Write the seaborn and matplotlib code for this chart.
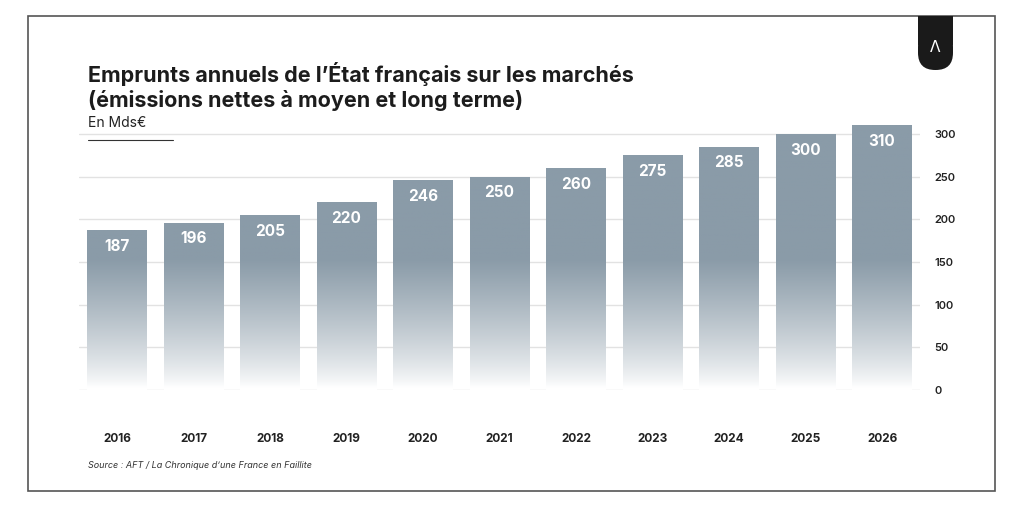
import matplotlib
matplotlib.use('Agg')
import numpy as np
import pandas as pd
import matplotlib.pyplot as plt
import seaborn as sns
from matplotlib.patches import Rectangle, FancyBboxPatch

# Données (Mds€)
annees = ['2016', '2017', '2018', '2019', '2020', '2021', '2022', '2023', '2024', '2025', '2026']
emprunts = [187, 196, 205, 220, 246, 250, 260, 275, 285, 300, 310]
graduations = [0, 50, 100, 150, 200, 250, 300]

titre = "Emprunts annuels de l\u2019État français sur les marchés\n(émissions nettes à moyen et long terme)"
sous_titre = "En Mds€"
source = "Source : AFT / La Chronique d\u2019une France en Faillite"

sns.set_theme(style="white")
plt.rcParams['font.family'] = ['Inter', 'DejaVu Sans']

df = pd.DataFrame({'annee': annees, 'valeur': emprunts})

fig = plt.figure(figsize=(10.24, 5.07), dpi=100)
fig.patch.set_facecolor('white')
ax = fig.add_axes([0.0769, 0.2308, 0.8218, 0.5385])

sns.barplot(data=df, x='annee', y='valeur', color='#8A9BA8', width=0.78, ax=ax,
            saturation=1)

YMAX = 320

# grille légère
for g in graduations:
    ax.axhline(g, color='#e2e2e2', lw=1, zorder=0)

# dégradé vertical (en valeurs absolues) dans chaque barre
couleur_haut = np.array([0x8A, 0x9B, 0xA8]) / 255
blanc = np.array([1.0, 1.0, 1.0])
n = 320
v = np.linspace(0, YMAX, n)
mix = np.clip((v - 3) / 150, 0, 1) ** 0.8
grad = (blanc[None, :] * (1 - mix[:, None]) + couleur_haut[None, :] * mix[:, None])
grad = grad[:, None, :]

for p in ax.patches:
    x0, w, h = p.get_x(), p.get_width(), p.get_height()
    p.set_facecolor('none')
    p.set_edgecolor('none')
    im = ax.imshow(grad, extent=[x0, x0 + w, 0, YMAX], origin='lower', aspect='auto', zorder=2)
    im.set_clip_path(p)
    ax.text(x0 + w / 2, h - 10, f"{int(h)}", ha='center', va='top', color='white',
            fontsize=11, fontweight='bold', zorder=3)

ax.set_aspect('auto')
ax.set_xlim(-0.5, len(annees) - 0.5)
ax.set_ylim(0, YMAX)

ax.yaxis.tick_right()
ax.set_yticks(graduations)
ax.set_yticklabels([str(g) for g in graduations], fontsize=8, fontweight='semibold', color='#222222')
ax.tick_params(axis='y', length=0, pad=10)
ax.tick_params(axis='x', length=0, pad=31, labelsize=8.5, labelcolor='#222222')
for lab in ax.get_xticklabels():
    lab.set_fontweight('bold')
ax.set_xlabel('')
ax.set_ylabel('')
for s in ax.spines.values():
    s.set_visible(False)
ax.set_facecolor('none')

# titre et annotations
fig.text(0.0859, 0.877, titre, fontsize=15.5, fontweight='bold', color='#1c1c1c',
         va='top', ha='left', linespacing=1.2)
fig.text(0.0859, 0.757, sous_titre, fontsize=10, color='#222222', va='center', ha='left')
fig.add_artist(plt.Line2D([0.0859, 0.169], [0.724, 0.724], color='#333333', lw=0.8))
fig.text(0.0859, 0.081, source, fontsize=6.5, style='italic', color='#333333',
         va='center', ha='left')

# cadre
fig.add_artist(Rectangle((28 / 1024, 1 - 491 / 507), (995 - 28) / 1024, (491 - 16) / 507,
                         transform=fig.transFigure, fill=False, edgecolor='#555555', lw=1.2))

# pastille du logo, accrochée au bord supérieur
bx, bw = 918 / 1024, 35 / 1024
badge = FancyBboxPatch((bx, 1 - 70 / 507), bw, 40 / 507,
                       boxstyle="round,pad=0,rounding_size=0.0168",
                       transform=fig.transFigure, facecolor='#1a1a1a', edgecolor='none',
                       mutation_aspect=1024 / 507)
fig.add_artist(badge)
fig.add_artist(Rectangle((bx, 1 - 45 / 507), bw, 29 / 507,
                         transform=fig.transFigure, facecolor='#1a1a1a', edgecolor='none'))
fig.text(935.5 / 1024, 1 - 48 / 507, "\u039b", color='white', fontsize=11,
         ha='center', va='center', family=['DejaVu Sans'])

fig.savefig('out.png', dpi=100, facecolor='white')
